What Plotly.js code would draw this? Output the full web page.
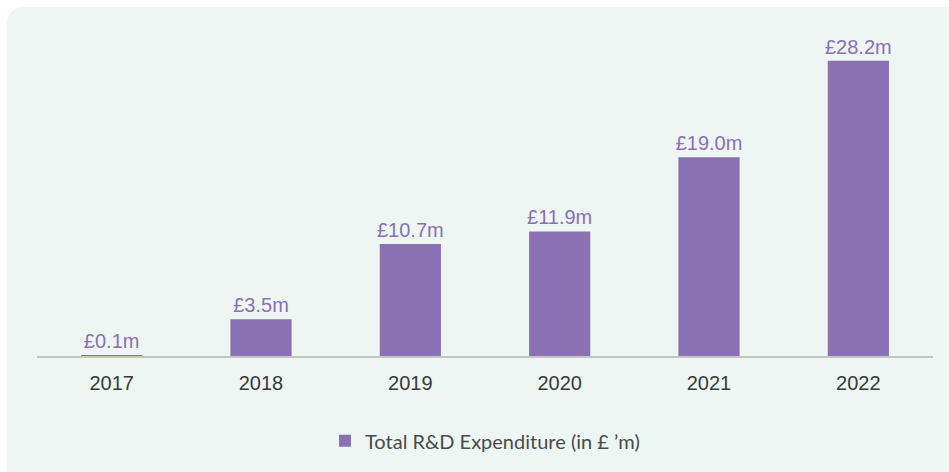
<!DOCTYPE html>
<html>
<head>
<meta charset="utf-8">
<script src="https://cdn.plot.ly/plotly-3.0.1.min.js"></script>
<style>
  html, body { margin: 0; padding: 0; background: #ffffff; }
  #card {
    position: absolute; left: 7px; top: 7px; width: 960px; height: 480px;
    background: #eef6f3; border-radius: 16px;
  }
  #graph { position: absolute; left: 0; top: 0; width: 949px; height: 472px; }
</style>
</head>
<body>
<div id="card"></div>
<div id="graph"></div>
<script>
let years = ['2017', '2018', '2019', '2020', '2021', '2022'];
let spend = [0.1, 3.5, 10.7, 11.9, 19.0, 28.2];
let labels = ['£0.1m', '£3.5m', '£10.7m', '£11.9m', '£19.0m', '£28.2m'];

let trace = {
    x: years,
    y: spend,
    type: 'bar',
    name: 'Total R&D Expenditure (in £ ’m)',
    marker: { color: '#8971b3' },
    text: labels,
    textposition: 'outside',
    constraintext: 'none',
    textfont: { family: 'Liberation Sans, Arial, sans-serif', size: 20, color: '#8a70b5' },
    cliponaxis: false,
    hoverinfo: 'none'
};

let layout = {
    width: 949,
    height: 472,
    margin: { l: 37, r: 16, t: 42, b: 116 },
    paper_bgcolor: 'rgba(0,0,0,0)',
    plot_bgcolor: 'rgba(0,0,0,0)',
    bargap: 0.59,
    showlegend: true,
    legend: {
        orientation: 'h',
        x: 0.5, xanchor: 'center',
        y: -0.27, yanchor: 'middle',
        font: { family: 'Lato, sans-serif', size: 20, color: '#4a4a4a' }
    },
    xaxis: {
        showline: true,
        linecolor: '#c4c4c4',
        linewidth: 1.5,
        ticks: '',
        ticklabelstandoff: 8,
        tickfont: { family: 'Liberation Sans, Arial, sans-serif', size: 20, color: '#3a3a3a' },
        fixedrange: true
    },
    yaxis: {
        range: [0, 30],
        visible: false,
        fixedrange: true
    }
};

Plotly.newPlot('graph', [trace], layout, { displayModeBar: false, staticPlot: true });
</script>
</body>
</html>
